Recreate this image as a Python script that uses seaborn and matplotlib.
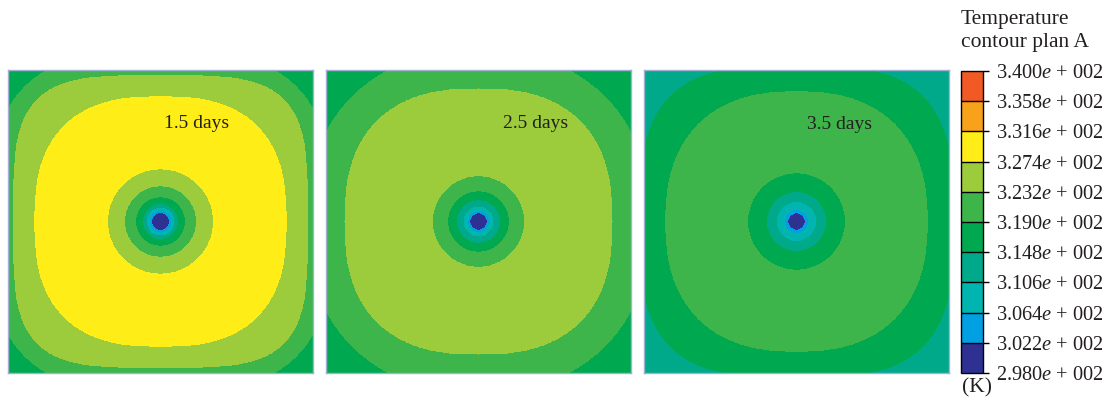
import numpy as np
import matplotlib
matplotlib.use("Agg")
import matplotlib.pyplot as plt
from matplotlib.colors import ListedColormap, BoundaryNorm
import seaborn as sns

# Temperature contour levels (K) and the fill colour of each band
levels = [298.0, 302.2, 306.4, 310.6, 314.8, 319.0, 323.2, 327.4, 331.6, 335.8, 340.0]
band_colors = ["#2E3192", "#00A0E3", "#00B5B0", "#00A98A", "#00A94F",
               "#3DB54A", "#9CCB3B", "#FFED17", "#F8A21B", "#F15A24"]

times = ["1.5 days", "2.5 days", "3.5 days"]

# Temperature of the warm interior of each section (K)
interior_temp = [329.5, 325.3, 321.1]

# Isotherms near the outer walls: (level K, squircle size, squircle exponent)
outer_isotherms = [
    [(327.4, 0.823, 2.6), (323.2, 0.962, 3.9), (319.0, 1.12, 3.0)],
    [(323.2, 0.875, 2.5), (319.0, 1.13, 2.2)],
    [(319.0, 0.856, 2.4), (314.8, 1.025, 3.2)],
]

# Circular isotherms around the central cold pipe: (level K, radius in half-widths)
pipe_isotherms = [
    [(327.4, 0.348), (323.2, 0.236), (319.0, 0.164), (314.8, 0.118),
     (310.6, 0.095), (306.4, 0.075), (302.2, 0.059)],
    [(323.2, 0.302), (319.0, 0.203), (314.8, 0.144), (310.6, 0.102),
     (306.4, 0.072), (302.2, 0.056)],
    [(319.0, 0.321), (314.8, 0.197), (310.6, 0.131), (306.4, 0.080),
     (302.2, 0.057)],
]

label_pos = [(0.02, 0.65), (0.16, 0.65), (0.07, 0.64)]

sns.set_theme(style="white")
plt.rcParams["font.family"] = ["Liberation Serif", "DejaVu Serif"]
plt.rcParams["mathtext.fontset"] = "custom"
plt.rcParams["mathtext.rm"] = "Liberation Serif"
plt.rcParams["mathtext.it"] = "Liberation Serif:italic"

text_color = "#231F20"
cmap = ListedColormap(sns.color_palette(band_colors))
norm = BoundaryNorm(levels, cmap.N)

W, H = 1111, 408
fig = plt.figure(figsize=(W / 100, H / 100), dpi=100)

n = 801
u = np.linspace(-1, 1, n)
U, V = np.meshgrid(u, u)
R = np.hypot(U, V)

panel_left = [8, 326, 644]
for k in range(3):
    ax = fig.add_axes([panel_left[k] / W, (H - 373) / H, 305 / W, 303 / H])
    T = np.full_like(U, interior_temp[k])
    for lev, size, p in outer_isotherms[k]:
        s = (np.abs(U) ** p + np.abs(V) ** p) ** (1.0 / p)
        T = np.where(s > size, np.minimum(T, lev - 2.1), T)
    for lev, rad in pipe_isotherms[k]:
        T = np.where(R < rad, np.minimum(T, lev - 2.1), T)
    ax.contourf(U, V, T, levels=levels, cmap=cmap, norm=norm)
    ax.set_xlim(-1, 1)
    ax.set_ylim(-1, 1)
    ax.set_xticks([])
    ax.set_yticks([])
    for sp in ax.spines.values():
        sp.set_color("#A3B0D6")
        sp.set_linewidth(1.0)
    ax.text(label_pos[k][0], label_pos[k][1], times[k], ha="left", va="center",
            fontsize=14, color=text_color)

# Discrete colour bar
cax = fig.add_axes([961 / W, (H - 373) / H, 22 / W, 302 / H])
sm = matplotlib.cm.ScalarMappable(norm=norm, cmap=cmap)
cb = fig.colorbar(sm, cax=cax, boundaries=levels, ticks=levels,
                  spacing="uniform", drawedges=True)
cb.outline.set_edgecolor("black")
cb.outline.set_linewidth(1.0)
cb.dividers.set_color("black")
cb.dividers.set_linewidth(1.0)
cb.set_ticklabels([f"{v / 100:.3f}$\\mathit{{e}}$ + 002" for v in levels])
cax.tick_params(axis="y", direction="out", length=4, width=1.0, color="black",
                pad=5.5, labelsize=14.7, labelcolor=text_color)

fig.text(961 / W, 1 - 10 / H, "Temperature\ncontour plan A", ha="left", va="top",
         fontsize=15.5, color=text_color, linespacing=1.25)
fig.text(962 / W, 1 - 388 / H, "(K)", ha="left", va="center",
         fontsize=15.5, color=text_color)

fig.savefig("out.png", dpi=100)
